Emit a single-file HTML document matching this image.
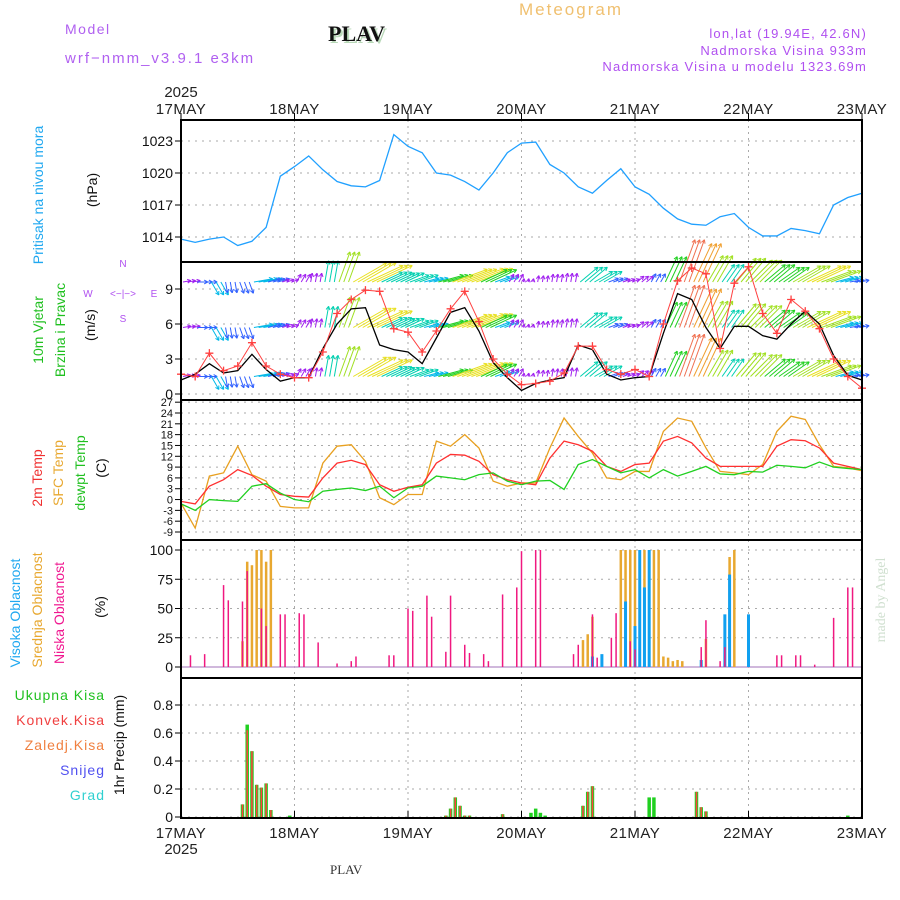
<!DOCTYPE html>
<html><head><meta charset="utf-8"><style>
body{margin:0;background:#fff;}
svg{display:block;font-family:"Liberation Sans",sans-serif;}
</style></head><body>
<svg id="c" width="900" height="900" viewBox="0 0 900 900">
<text x="65" y="34" font-size="14" fill="#b060f0" letter-spacing="1.5">Model</text>
<text x="65" y="63" font-size="15" fill="#b060f0" letter-spacing="2">wrf−nmm_v3.9.1 e3km</text>
<text x="330" y="43" font-size="22" font-weight="bold" font-family="Liberation Serif,serif" fill="#b8d8b8">PLAV</text>
<text x="328" y="41" font-size="22" font-weight="bold" font-family="Liberation Serif,serif" fill="#111">PLAV</text>
<text x="519" y="15" font-size="17" fill="#f0c070" letter-spacing="2">Meteogram</text>
<g font-size="13" fill="#b050f0" text-anchor="end" letter-spacing="1.2">
<text x="867" y="38">lon,lat (19.94E, 42.6N)</text>
<text x="867" y="55">Nadmorska Visina 933m</text>
<text x="867" y="71">Nadmorska Visina u modelu 1323.69m</text>
</g>
<g id="grid"></g>
<g id="marks"></g>
<g id="axes"></g>
<g font-size="14">
<text transform="translate(43,195) rotate(-90)" text-anchor="middle" fill="#20a8f0">Pritisak na nivou mora</text>
<text transform="translate(97,190) rotate(-90)" text-anchor="middle" fill="#111">(hPa)</text>
<text transform="translate(43,330) rotate(-90)" text-anchor="middle" fill="#20c020">10m Vjetar</text>
<text transform="translate(65,330) rotate(-90)" text-anchor="middle" fill="#20c020">Brzina i Pravac</text>
<text transform="translate(95,325) rotate(-90)" text-anchor="middle" fill="#111">(m/s)</text>
<g fill="#b050f0" font-size="10" text-anchor="middle"><text x="123" y="267">N</text><text x="88" y="297">W</text><text x="154" y="297">E</text><text x="123" y="322">S</text><text x="123" y="297">&lt;−|−&gt;</text></g>
<text transform="translate(42,478) rotate(-90)" text-anchor="middle" fill="#f03030">2m Temp</text>
<text transform="translate(63,473) rotate(-90)" text-anchor="middle" fill="#e8a830">SFC Temp</text>
<text transform="translate(85,473) rotate(-90)" text-anchor="middle" fill="#20c020">dewpt Temp</text>
<text transform="translate(106,468) rotate(-90)" text-anchor="middle" fill="#111">(C)</text>
<text transform="translate(20,613) rotate(-90)" text-anchor="middle" fill="#20a8f0">Visoka Oblacnost</text>
<text transform="translate(42,610) rotate(-90)" text-anchor="middle" fill="#e8a830">Srednja Oblacnost</text>
<text transform="translate(64,613) rotate(-90)" text-anchor="middle" fill="#f01890">Niska Oblacnost</text>
<text transform="translate(105,607) rotate(-90)" text-anchor="middle" fill="#111">(%)</text>
<g text-anchor="end" letter-spacing="1"><text x="105" y="700" fill="#20c020">Ukupna Kisa</text><text x="105" y="725" fill="#f04040">Konvek.Kisa</text><text x="105" y="750" fill="#f08040">Zaledj.Kisa</text><text x="105" y="775" fill="#5050f0">Snijeg</text><text x="105" y="800" fill="#30d0d0">Grad</text></g>
<text transform="translate(124,745) rotate(-90)" text-anchor="middle" fill="#111">1hr Precip (mm)</text>
</g>
<text transform="translate(885,600) rotate(-90)" text-anchor="middle" font-size="14" font-family="Liberation Serif,serif" fill="#d0e0d0">made by Angel</text>
<text x="330" y="874" font-size="13" font-family="Liberation Serif,serif" fill="#333">PLAV</text>
</svg>
<script>
const dayLabels=["17MAY","18MAY","19MAY","20MAY","21MAY","22MAY","23MAY"];
const pressure=[1013.8,1013.5,1013.8,1014,1013.2,1013.6,1014.9,1019.7,1020.6,1021.6,1020.3,1019.2,1018.8,1018.7,1019.3,1023.6,1022.5,1021.9,1020,1019.8,1019.2,1018.4,1020,1021.9,1022.8,1022.9,1020.8,1020,1018.7,1018.1,1019.3,1020.4,1018.7,1018,1016.7,1015.7,1015.2,1015.1,1015.9,1016.2,1014.9,1014.1,1014.1,1014.8,1014.6,1014.3,1017,1017.7,1018.1];
const windSpeed=[1.2,1.7,2.6,1.8,2.0,3.4,2.1,1.1,1.4,1.4,3.9,6,7.3,7.4,4.2,3.8,3.6,2.6,4.8,7,7.4,5.4,2.7,1.4,0.3,0.9,1.2,1.4,4.2,3.8,1.7,1.2,1.4,1.5,5.2,8.6,8.1,5.7,3.9,5.8,5.8,5,4.7,6,7.1,6,3.3,1.6,1.2];
const windGust=[1.7,1.5,3.5,2,2.4,4.4,2.4,1.7,1.4,1.4,3.6,6.9,8.1,8.9,8.8,5.6,5.3,3.6,5.4,7.3,8.8,6.2,3,1.7,0.8,0.9,1.1,1.8,4.1,4.1,2.1,1.7,2.1,1.5,6,9.7,10.8,10.3,3.9,9.5,10.9,6.9,5.2,8.1,7.1,5.6,3,1.5,0.5];
const windDir=[10,0,-60,-80,-70,10,15,20,60,80,80,70,30,25,25,25,20,15,15,20,20,25,20,60,80,80,80,80,40,30,20,20,40,60,65,70,65,60,55,50,45,40,35,30,25,20,15,10,5];
const temp2m=[-0.5,-1.2,3.7,5.5,8.3,6.7,3.7,1.4,0.9,0.7,6,10.1,10.9,9.7,4.1,2.3,3.4,4.1,10.1,12.5,12.3,10.6,6.9,5.5,4.6,4.1,11.5,16.2,15.2,13.4,9.2,7.8,9.7,10.1,16.2,17.5,15.7,11.5,9.2,9.2,9.2,9.2,14.8,16.6,16.3,14.3,10.1,9.2,8.3];
const tempSfc=[-1,-7.9,6.5,7.4,14.8,6.9,5.1,-1.9,-2.3,-2.3,10.1,14.8,15.2,10.6,0.5,-1.4,1.4,1.4,16.2,14.8,18,14.3,5.1,3.7,4.6,4.6,14.3,22.6,17.5,12.9,6,5.5,7.8,7.8,18.9,22.6,21.7,14.3,7.8,7.4,6.9,9.7,18.9,23.1,22.2,15.2,9.2,8.8,8];
const dewpt=[-1.2,-3,0,-0.3,-0.5,3.7,4.4,1.8,0,-0.6,2.3,2.8,3.2,2.5,3.7,0.5,3.2,3.7,6.5,6,5.5,6.9,7.4,5.1,4.1,5.1,5.3,2.8,9.7,11.1,9.2,7.4,8.3,6,8.3,6.5,7.8,9.2,7.1,6.9,7.8,7.6,9.5,9.2,8.8,10.4,9,8.6,8.3];
const lowHours=[2,5,9,10,13,14,17,18,21,22,25,26,29,33,36,37,44,45,48,49,52,53,56,57,60,61,64,65,68,71,72,75,76,83,84,87,88,91,92,95,96,110,111,114,115,126,127,130,131,134,138,141,142];
const lowVals=[10,11,70,57,56,82,50,35,45,45,46,45,21,3,5,9,10,10,50,48,61,43,13,61,19,12,11,5,62,68,99,100,100,11,19,45,8,25,46,22,15,17,40,5,17,10,10,10,10,2,42,68,68];
const midHours=[13,14,15,16,17,18,19,85,86,87,93,94,95,96,98,100,101,102,103,104,105,106,111,115,116,117];
const midVals=[22,90,87,100,100,90,100,23,28,43,100,100,100,100,100,100,100,9,8,5,6,5,24,20,94,100];
const highHours=[87,89,94,96,97,98,99,110,115,116,120];
const highVals=[9,11,56,35,100,68,100,6,45,79,45];
const precipHours=[13,14,15,16,17,18,19,23,56,57,58,59,60,61,68,74,75,76,77,85,86,87,99,100,109,110,111,141];
const precipTotal=[0.09,0.66,0.47,0.23,0.21,0.24,0.05,0.01,0.01,0.06,0.14,0.08,0.01,0.01,0.02,0.03,0.06,0.03,0.01,0.08,0.18,0.22,0.14,0.14,0.18,0.07,0.04,0.01];
const precipConv=[0.09,0.62,0.47,0.23,0.21,0.24,0.05,0,0.01,0.06,0.14,0.08,0.01,0.01,0.02,0,0,0,0,0.08,0.18,0.22,0,0,0.18,0.07,0.04,0];

const NS='http://www.w3.org/2000/svg';
const X0=181,X1=862;
const xH=h=>X0+h*(X1-X0)/144;
const x3=i=>xH(i*3);
const yP=v=>141+(1023-v)*96/9;
const yW=v=>394-v*105/9;
const yT=v=>413+(24-v)*119/33;
const yC=v=>667-v*117/100;
const yR=v=>817-v*140;
function mk(par,tag,at){const e=document.createElementNS(NS,tag);for(const k in at)e.setAttribute(k,at[k]);document.getElementById(par).appendChild(e);return e;}
const panels=[[120,262],[262,400],[400,540],[540,678],[678,818]];
for(let d=1;d<6;d++){const g=mk('grid','line',{x1:xH(d*24),x2:xH(d*24),y1:120,y2:818,stroke:'#aaa','stroke-dasharray':'2,4'});

}
const hticks=[[[1023,1020,1017,1014],yP],[[9,6,3,0],yW],[[27,24,21,18,15,12,9,6,3,0,-3,-6,-9],yT],[[100,75,50,25,0],yC],[[0.8,0.6,0.4,0.2,0],yR]];
hticks.forEach(([vals,f],pi)=>{vals.forEach(v=>{
 const l=mk('grid','line',{x1:X0,x2:X1,y1:f(v),y2:f(v),stroke:'#aaa','stroke-dasharray':'2,5'});
 
 
 const t=mk('axes','line',{x1:X0-6,x2:X0,y1:f(v),y2:f(v),stroke:'#000'});
 
 
 const tx=mk('axes','text',{x:X0-8,y:f(v)+(pi==2?4:5),'text-anchor':'end','font-size':pi==2?11:14,fill:'#111'});
 tx.textContent=v;
 
 
});});
function line(arr,f,col,name,w){const p=mk('marks','polyline',{points:arr.map((v,i)=>x3(i)+','+f(v)).join(' '),fill:'none',stroke:col,'stroke-width':w||1.3});

return p;}
line(pressure,yP,'#20a0ff','pressure-line');
function spdCol(s){const c=['#a020f0','#3060ff','#00b8e8','#00d0b0','#20d020','#a0e020','#e8e020','#f0a030','#f07050','#f02090'];return c[Math.min(9,Math.max(0,Math.floor(s-0.5)))];}
[9.6,5.7,1.5].forEach(base=>{
 windSpeed.forEach((s,i)=>{ if(i==48)return;
  const a=windDir[i]*Math.PI/180,L=2+s*5;
  const col=spdCol(s);
  for(let k=0;k<3;k++){
  const x=xH(i*3+k)+2,y=yW(base);
  const ex=x+L*Math.cos(a),ey=y-L*Math.sin(a);
  const g=mk('marks','g',{stroke:col,'stroke-width':1,fill:'none'});
  
  
  const ln=document.createElementNS(NS,'line');ln.setAttribute('x1',x);ln.setAttribute('y1',y);ln.setAttribute('x2',ex);ln.setAttribute('y2',ey);g.appendChild(ln);
  [0.5,-0.5].forEach(d=>{const h=document.createElementNS(NS,'line');h.setAttribute('x1',ex);h.setAttribute('y1',ey);h.setAttribute('x2',ex-4*Math.cos(a+d));h.setAttribute('y2',ey+4*Math.sin(a+d));g.appendChild(h);});
  }
 });
});
line(windSpeed,yW,'#000','wind-speed-line',1.3);
line(windGust,yW,'#ff4040','wind-gust-line',1);
windGust.forEach((v,i)=>{const m=mk('marks','path',{d:`M${x3(i)-4},${yW(v)}h8M${x3(i)},${yW(v)-4}v8`,stroke:'#ff4040','stroke-width':1.3});
 
 });
line(tempSfc,yT,'#e8a020','sfc-temp-line');
line(temp2m,yT,'#ff3030','temp-2m-line');
line(dewpt,yT,'#20d020','dewpoint-line');
const bl=mk('marks','line',{x1:X0,x2:X1,y1:yC(0),y2:yC(0),stroke:'#c0a0d0','stroke-width':1.5});


function bars(hours,vals,f,col,w,name){hours.forEach((h,i)=>{const y=f(vals[i]);const r=mk('marks','rect',{x:xH(h)-w/2,y:y,width:w,height:f(0)-y,fill:col});
 
 });}
bars(midHours,midVals,yC,'#e8a830',2.5,'mid-cloud-bar');
bars(highHours,highVals,yC,'#10a0f0',3,'high-cloud-bar');
bars(lowHours,lowVals,yC,'#f01880',1.5,'low-cloud-bar');
bars(precipHours,precipTotal,yR,'#20d020',3.5,'precip-total-bar');
bars(precipHours,precipConv,yR,'#ff4040',1.5,'precip-conv-bar');
panels.forEach(([a,b])=>{const r=mk('axes','rect',{x:X0,y:a,width:X1-X0,height:b-a,fill:'none',stroke:'#000','stroke-width':2});
 
 });
dayLabels.forEach((d,i)=>{const x=xH(i*24);
 [[113,120,114],[818,811,838]].forEach(([y1,y2,ty])=>{
  const t=mk('axes','line',{x1:x,x2:x,y1:y1,y2:y2,stroke:'#000'});
  
  
  const tx=mk('axes','text',{x:x,y:ty,'text-anchor':'middle','font-size':15,fill:'#222','letter-spacing':'0.5'});
  tx.textContent=d;
  
  
 });
});
[[97],[854]].forEach(([y])=>{const t=mk('axes','text',{x:181,y:y,'text-anchor':'middle','font-size':15,fill:'#222'});t.textContent='2025';
 
 });
</script>
</body></html>
